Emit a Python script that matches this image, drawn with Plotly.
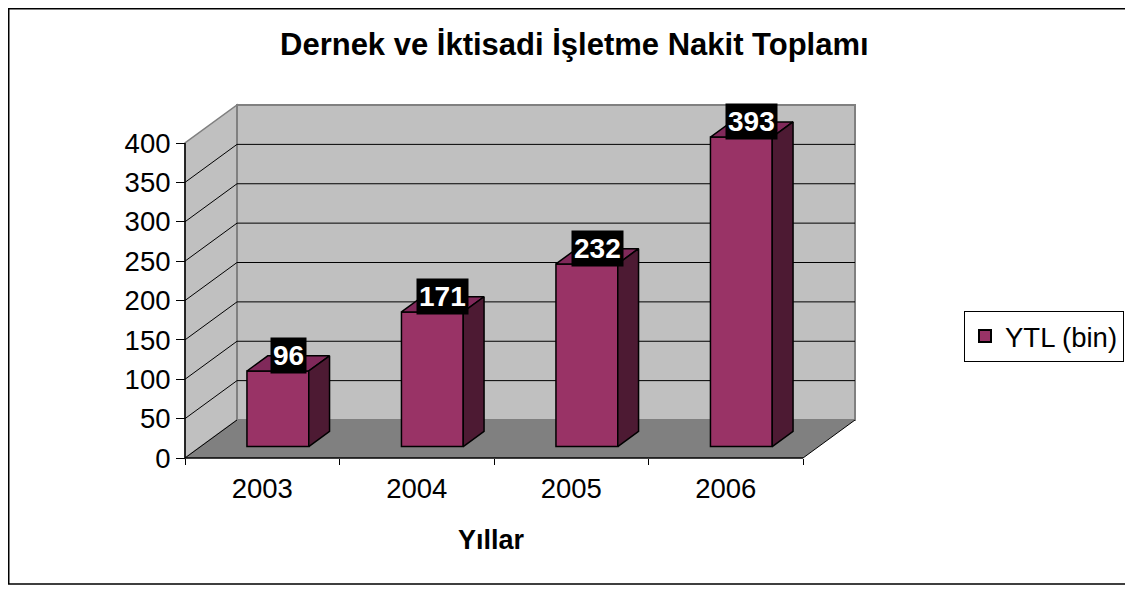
import plotly.graph_objects as go

# ---------------- data ----------------
years = ["2003", "2004", "2005", "2006"]
values = [96, 171, 232, 393]
y_ticks = [0, 50, 100, 150, 200, 250, 300, 350, 400]
series_name = "YTL (bin)"
title_text = "Dernek ve İktisadi İşletme Nakit Toplamı"
x_title = "Yıllar"

# ---------------- layout constants (page pixels) ----------------
PAGE_W, PAGE_H = 1133, 593
OFF = 8                               # default body margin of the page
W, H = PAGE_W - 2 * OFF, PAGE_H - 2 * OFF
ORIGIN_X, ORIGIN_Y = 185, 458         # front-left-bottom corner of the box
PX_PER_CAT = 154.5                    # pixels per category slot
PX_PER_VAL = 0.7875                   # pixels per value unit
DEPTH_X, DEPTH_Y = 52, 38             # 3D depth offset
PLOT_L, PLOT_R, PLOT_T, PLOT_B = 175, 865, 95, 468   # page px
F0, F1 = 0.3, 0.7                     # bar depth span (fractions)
BAR_W = 0.4                           # bar width in category units

FRONT = "#993366"
TOP = "#80295A"
SIDE = "#4D1A33"
WALL = "#C0C0C0"
FLOOR = "#808080"
FONT = "Liberation Sans, Arial, sans-serif"
TICK_SIZE = 27.5

dxu = DEPTH_X / PX_PER_CAT
dyu = DEPTH_Y / PX_PER_VAL
ymax = max(y_ticks)
n = len(years)

# figure-pixel plot area
FL, FR, FT, FB = PLOT_L - OFF, PLOT_R - OFF, PLOT_T - OFF, PLOT_B - OFF

def pxx(page_px):
    return (page_px - OFF - FL) / (FR - FL)

def pxy(page_py):
    return (FB - (page_py - OFF)) / (FB - FT)

fig = go.Figure()

# front faces of bars
fig.add_trace(go.Bar(
    x=[i + 0.5 + F0 * dxu for i in range(n)],
    y=values,
    base=F0 * dyu,
    width=BAR_W,
    name=series_name,
    marker=dict(color=FRONT, line=dict(color="black", width=1.5)),
    hoverinfo="skip",
))

# top and side faces
for i, v in enumerate(values):
    xl = i + 0.5 - BAR_W / 2
    xr_ = i + 0.5 + BAR_W / 2
    top_x = [xl + F0 * dxu, xr_ + F0 * dxu, xr_ + F1 * dxu, xl + F1 * dxu, xl + F0 * dxu]
    top_y = [v + F0 * dyu, v + F0 * dyu, v + F1 * dyu, v + F1 * dyu, v + F0 * dyu]
    fig.add_trace(go.Scatter(x=top_x, y=top_y, mode="lines", fill="toself",
                             fillcolor=TOP, line=dict(color="black", width=1.5),
                             showlegend=False, hoverinfo="skip"))
    side_x = [xr_ + F0 * dxu, xr_ + F1 * dxu, xr_ + F1 * dxu, xr_ + F0 * dxu, xr_ + F0 * dxu]
    side_y = [F0 * dyu, F1 * dyu, v + F1 * dyu, v + F0 * dyu, F0 * dyu]
    fig.add_trace(go.Scatter(x=side_x, y=side_y, mode="lines", fill="toself",
                             fillcolor=SIDE, line=dict(color="black", width=1.5),
                             showlegend=False, hoverinfo="skip"))

shapes = []
# side wall
shapes.append(dict(type="path", xref="x", yref="y", layer="below",
                   path=f"M 0,0 L 0,{ymax} L {dxu},{ymax + dyu} L {dxu},{dyu} Z",
                   fillcolor=WALL, line=dict(color="#808080", width=1.5)))
# back wall
shapes.append(dict(type="rect", xref="x", yref="y", layer="below",
                   x0=dxu, y0=dyu, x1=n + dxu, y1=ymax + dyu,
                   fillcolor=WALL, line=dict(color="#808080", width=2)))
# floor
shapes.append(dict(type="path", xref="x", yref="y", layer="below",
                   path=f"M 0,0 L {n},0 L {n + dxu},{dyu} L {dxu},{dyu} Z",
                   fillcolor=FLOOR, line=dict(width=0)))
# gridlines
for v in y_ticks[1:-1]:
    shapes.append(dict(type="line", xref="x", yref="y", layer="below",
                       x0=dxu, y0=v + dyu, x1=n + dxu, y1=v + dyu,
                       line=dict(color="black", width=1)))
    shapes.append(dict(type="line", xref="x", yref="y", layer="below",
                       x0=0, y0=v, x1=dxu, y1=v + dyu,
                       line=dict(color="black", width=1)))
# floor edges
shapes.append(dict(type="line", xref="x", yref="y", layer="below",
                   x0=0, y0=0, x1=dxu, y1=dyu, line=dict(color="black", width=1)))
shapes.append(dict(type="line", xref="x", yref="y", layer="below",
                   x0=n, y0=0, x1=n + dxu, y1=dyu, line=dict(color="black", width=1)))
# axis lines
shapes.append(dict(type="line", xref="x", yref="y", layer="below",
                   x0=0, y0=0, x1=n, y1=0, line=dict(color="black", width=1.5)))
shapes.append(dict(type="line", xref="x", yref="y", layer="below",
                   x0=0, y0=0, x1=0, y1=ymax, line=dict(color="black", width=1.5)))
# outer chart frame (left, top, bottom edges)
fr_l, fr_t, fr_b, fr_r = OFF + 0.75, OFF + 0.75, OFF + H - 1, OFF + W + 10
shapes.append(dict(type="path", xref="paper", yref="paper",
                   path=(f"M {pxx(fr_r)},{pxy(fr_t)} L {pxx(fr_l)},{pxy(fr_t)} "
                         f"L {pxx(fr_l)},{pxy(fr_b)} L {pxx(fr_r)},{pxy(fr_b)}"),
                   line=dict(color="black", width=1.5)))

annotations = []
for i, v in enumerate(values):
    annotations.append(dict(
        x=i + 0.5 + 0.5 * dxu, y=v + F1 * dyu, xref="x", yref="y",
        xanchor="center", yanchor="middle",
        text=f"<b>{v}</b>", showarrow=False,
        font=dict(family=FONT, size=28, color="white"),
        bgcolor="black", borderpad=2,
    ))
annotations.append(dict(
    x=pxx(574.5), y=pxy(45), xref="paper", yref="paper",
    xanchor="center", yanchor="middle",
    text=f"<b>{title_text}</b>", showarrow=False,
    font=dict(family=FONT, size=31, color="black"),
))
annotations.append(dict(
    x=pxx(491), y=pxy(540), xref="paper", yref="paper",
    xanchor="center", yanchor="middle",
    text=f"<b>{x_title}</b>", showarrow=False,
    font=dict(family=FONT, size=27, color="black"),
))

fig.update_layout(
    width=W, height=H, autosize=False,
    margin=dict(l=FL, r=W - FR, t=FT, b=H - FB, pad=0, autoexpand=False),
    paper_bgcolor="white", plot_bgcolor="rgba(0,0,0,0)",
    font=dict(family=FONT, size=TICK_SIZE, color="black"),
    shapes=shapes, annotations=annotations,
    showlegend=True,
    legend=dict(x=pxx(964), y=pxy(336), xanchor="left", yanchor="middle",
                xref="paper", yref="paper",
                bordercolor="black", borderwidth=1, bgcolor="white",
                font=dict(family=FONT, size=TICK_SIZE, color="black"),
                itemsizing="constant"),
    xaxis=dict(
        range=[(PLOT_L - ORIGIN_X) / PX_PER_CAT, (PLOT_R - ORIGIN_X) / PX_PER_CAT],
        anchor="free", position=pxy(ORIGIN_Y),
        tickvals=[i + 0.5 for i in range(n)], ticktext=years,
        ticks="", ticklabelstandoff=11,
        showgrid=False, zeroline=False, showline=False,
        minor=dict(tickvals=list(range(n + 1)), ticks="outside", ticklen=6,
                   tickcolor="black", tickwidth=1, showgrid=False),
        tickfont=dict(family=FONT, size=TICK_SIZE, color="black"),
        fixedrange=True,
    ),
    yaxis=dict(
        range=[(ORIGIN_Y - PLOT_B) / PX_PER_VAL, (ORIGIN_Y - PLOT_T) / PX_PER_VAL],
        anchor="free", position=pxx(ORIGIN_X),
        tickvals=y_ticks, ticks="outside", ticklen=9, tickcolor="black",
        showgrid=False, zeroline=False, showline=False,
        tickfont=dict(family=FONT, size=TICK_SIZE, color="black"),
        fixedrange=True,
    ),
)

fig.write_html("out.html")
